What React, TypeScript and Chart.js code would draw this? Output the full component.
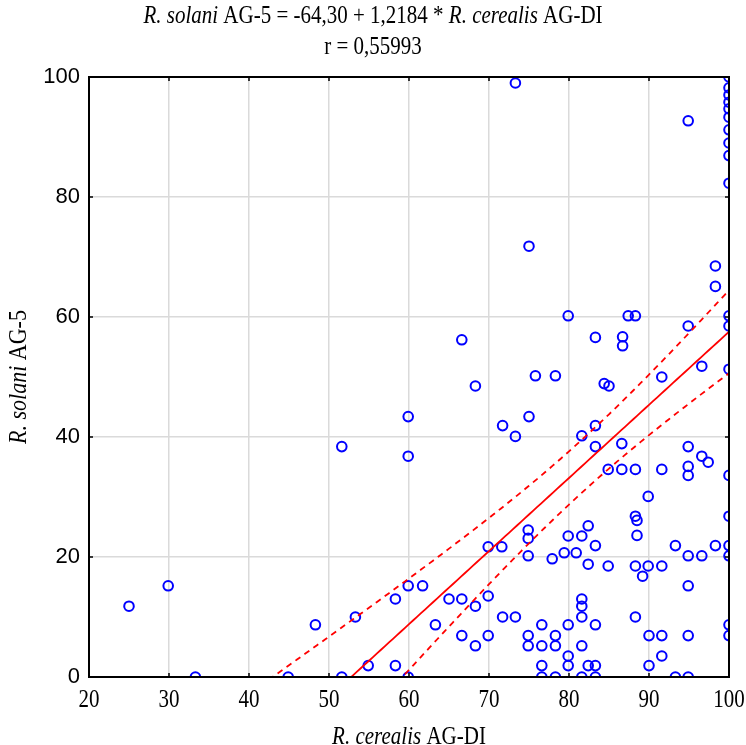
import React, { useEffect, useRef } from "react";
import { Chart, registerables } from "chart.js";

Chart.register(...registerables);

// R. cerealis AG-DI (x) and R. solani AG-5 (y), one entry per sample
const cerealisValues: number[] = [
  25.0, 29.9, 33.3, 44.9, 48.3, 51.6, 51.6, 53.3, 54.9, 58.3,
  58.3, 59.9, 59.9, 59.9, 59.9, 61.7, 63.3, 65.0, 66.6, 66.6,
  66.6, 68.3, 68.3, 68.3, 69.9, 69.9, 69.9, 71.7, 71.6, 71.7,
  73.3, 73.3, 73.3, 75.0, 75.0, 74.9, 74.9, 74.9, 74.9, 74.9,
  75.8, 76.6, 76.6, 76.6, 76.6, 77.9, 78.3, 78.3, 78.3, 78.3,
  79.4, 79.9, 79.9, 79.9, 79.9, 79.9, 80.9, 81.6, 81.6, 81.6,
  81.6, 81.6, 81.6, 81.6, 82.4, 82.4, 82.4, 83.3, 83.3, 83.3,
  83.3, 83.3, 83.3, 83.3, 84.4, 85.0, 84.9, 84.9, 86.7, 86.7,
  86.6, 86.6, 87.4, 88.3, 88.3, 88.3, 88.5, 88.5, 88.3, 88.3,
  89.2, 89.9, 89.9, 90.0, 90.0, 91.6, 91.6, 91.6, 91.6, 91.6,
  93.3, 93.3, 94.9, 94.9, 94.9, 94.9, 94.9, 94.9, 94.9, 94.9,
  94.9, 96.6, 96.6, 96.6, 97.4, 98.3, 98.3, 98.3,
  100, 100, 100, 100, 100, 100, 100, 100, 100, 100,
  100, 100, 100, 100, 100, 100, 100, 100, 100,
];

const solaniValues: number[] = [
  11.8, 15.2, 0, 0, 8.7, 38.4, 0, 10.0, 1.9, 1.9,
  13.0, 15.2, 43.4, 36.8, 0, 15.2, 8.7, 13.0, 13.0, 6.9,
  56.2, 48.5, 11.8, 5.2, 21.7, 13.5, 6.9, 41.9, 21.7, 10.0,
  99.0, 40.1, 10.0, 71.8, 43.4, 24.5, 23.1, 20.2, 6.9, 5.2,
  50.2, 8.7, 5.2, 1.9, 0, 19.7, 50.2, 6.9, 5.2, 0,
  20.7, 60.2, 23.5, 8.7, 3.5, 1.9, 20.7, 40.2, 23.5, 13.0,
  11.8, 10.0, 5.2, 0, 25.2, 18.8, 1.9, 56.6, 41.9, 38.4,
  21.9, 8.7, 1.9, 0, 48.9, 48.5, 34.6, 18.5, 56.7, 55.2,
  38.9, 34.6, 60.2, 60.2, 34.6, 26.8, 26.1, 23.6, 18.5, 10.0,
  16.8, 30.1, 18.5, 6.9, 1.9, 50.0, 34.6, 18.5, 6.9, 3.5,
  21.9, 0, 92.7, 58.5, 38.4, 35.1, 33.6, 20.2, 15.2, 6.9,
  0, 51.8, 36.8, 20.2, 35.8, 68.5, 65.1, 21.9,
  100, 98.2, 97.0, 95.8, 94.7, 93.3, 91.2, 89.0, 86.9, 82.3,
  60.2, 58.5, 51.3, 33.6, 26.8, 21.9, 20.2, 8.7, 6.9,
];

// Fitted line reported in the heading
const intercept = -64.3;
const slope = 1.2184;
const correlation = "0,55993";

const xMin = 20;
const xMax = 100;
const xStep = 10;
const yMin = 0;
const yMax = 100;
const yStep = 20;

const BLUE = "#0000ff";
const RED = "#ff0000";
const SERIF = "'Liberation Serif', 'Times New Roman', serif";
const SANS = "'Liberation Sans', Arial, sans-serif";
// serif lettering is set slightly tall and narrow
const STRETCH = 1.18;

type Part = { text: string; italic: boolean };

const fmt = (v: number, digits: number) => v.toFixed(digits).replace(".", ",");

function drawRich(ctx: CanvasRenderingContext2D, parts: Part[], cx: number, cy: number, size: number) {
  const fontFor = (p: Part) => `${p.italic ? "italic " : ""}${size}px ${SERIF}`;
  let total = 0;
  const widths = parts.map((p) => {
    ctx.font = fontFor(p);
    const w = ctx.measureText(p.text).width;
    total += w;
    return w;
  });
  ctx.save();
  ctx.translate(cx, cy);
  ctx.scale(1, STRETCH);
  let x = -total / 2;
  ctx.textBaseline = "middle";
  ctx.textAlign = "left";
  parts.forEach((p, i) => {
    ctx.font = fontFor(p);
    ctx.fillText(p.text, x, 0);
    x += widths[i];
  });
  ctx.restore();
}

const frameAndText = {
  id: "frameAndText",
  afterDatasetsDraw(chart: any) {
    const { ctx, chartArea, scales } = chart;
    const { left, right, top, bottom } = chartArea;
    const xs = scales.x;
    const ys = scales.y;
    ctx.save();
    ctx.fillStyle = "#000";
    ctx.strokeStyle = "#000";

    // plot frame
    ctx.lineWidth = 2;
    ctx.strokeRect(left, top, right - left, bottom - top);

    // inward tick marks on all four sides
    ctx.lineWidth = 1.5;
    ctx.beginPath();
    xs.ticks.forEach((t: any) => {
      const px = xs.getPixelForValue(t.value);
      ctx.moveTo(px, bottom);
      ctx.lineTo(px, bottom - 4);
      ctx.moveTo(px, top);
      ctx.lineTo(px, top + 4);
    });
    ys.ticks.forEach((t: any) => {
      const py = ys.getPixelForValue(t.value);
      ctx.moveTo(left, py);
      ctx.lineTo(left + 4, py);
      ctx.moveTo(right, py);
      ctx.lineTo(right - 4, py);
    });
    ctx.stroke();

    // tick labels
    xs.ticks.forEach((t: any) => {
      drawRich(ctx, [{ text: String(t.value), italic: false }], xs.getPixelForValue(t.value), bottom + 23, 21);
    });
    ctx.font = `22px ${SANS}`;
    ctx.textAlign = "right";
    ctx.textBaseline = "middle";
    ys.ticks.forEach((t: any) => {
      ctx.fillText(String(t.value), left - 9, ys.getPixelForValue(t.value));
    });

    // heading
    const cx = chart.width / 2;
    drawRich(
      ctx,
      [
        { text: "R. solani", italic: true },
        { text: ` AG-5 = ${fmt(intercept, 2)} + ${fmt(slope, 4)} * `, italic: false },
        { text: "R. cerealis", italic: true },
        { text: " AG-DI", italic: false },
      ],
      cx,
      16,
      21
    );
    drawRich(ctx, [{ text: `r = ${correlation}`, italic: false }], cx, 47, 21);

    // axis titles
    drawRich(
      ctx,
      [
        { text: "R. cerealis", italic: true },
        { text: " AG-DI", italic: false },
      ],
      (left + right) / 2,
      bottom + 60,
      21
    );
    ctx.save();
    ctx.translate(19, (top + bottom) / 2);
    ctx.rotate(-Math.PI / 2);
    drawRich(
      ctx,
      [
        { text: "R. solani", italic: true },
        { text: " AG-5", italic: false },
      ],
      0,
      0,
      22
    );
    ctx.restore();
    ctx.restore();
  },
};

function buildBands() {
  const n = cerealisValues.length;
  const xbar = cerealisValues.reduce((a, b) => a + b, 0) / n;
  let sxx = 0;
  let sse = 0;
  for (let i = 0; i < n; i++) {
    const x = cerealisValues[i];
    sxx += (x - xbar) * (x - xbar);
    const r = solaniValues[i] - (intercept + slope * x);
    sse += r * r;
  }
  const s = Math.sqrt(sse / (n - 2));
  const t = 1.977;
  const fit: { x: number; y: number }[] = [];
  const upper: { x: number; y: number }[] = [];
  const lower: { x: number; y: number }[] = [];
  for (let x = xMin; x <= xMax + 1e-9; x += 0.5) {
    const yhat = intercept + slope * x;
    const h = t * s * Math.sqrt(1 / n + ((x - xbar) * (x - xbar)) / sxx);
    fit.push({ x, y: yhat });
    upper.push({ x, y: yhat + h });
    lower.push({ x, y: yhat - h });
  }
  return { fit, upper, lower };
}

export default function App() {
  const ref = useRef<HTMLCanvasElement | null>(null);

  useEffect(() => {
    if (!ref.current) return;
    const { fit, upper, lower } = buildBands();
    const points = cerealisValues.map((x, i) => ({ x, y: solaniValues[i] }));
    const lineStyle = {
      type: "line" as const,
      pointRadius: 0,
      borderColor: RED,
      borderWidth: 1.8,
      fill: false,
      tension: 0,
      clip: 0,
    };
    const chart = new Chart(ref.current, {
      type: "scatter",
      data: {
        datasets: [
          { ...lineStyle, data: fit, order: 1 },
          { ...lineStyle, data: upper, borderDash: [6, 5], order: 1 },
          { ...lineStyle, data: lower, borderDash: [6, 5], order: 1 },
          {
            data: points,
            pointStyle: "circle",
            pointRadius: 4.8,
            pointBorderWidth: 2,
            borderColor: BLUE,
            pointBorderColor: BLUE,
            backgroundColor: "rgba(0,0,0,0)",
            pointBackgroundColor: "rgba(0,0,0,0)",
            clip: 0,
            order: 2,
          } as any,
        ],
      },
      options: {
        animation: false,
        responsive: false,
        devicePixelRatio: 1,
        layout: { padding: { top: 77, right: 17, left: 0, bottom: 0 } },
        plugins: { legend: { display: false }, tooltip: { enabled: false }, title: { display: false } },
        scales: {
          x: {
            type: "linear",
            min: xMin,
            max: xMax,
            ticks: { stepSize: xStep, display: false },
            grid: { color: "#dadada", lineWidth: 1.5, drawTicks: false },
            border: { display: false },
            afterFit: (scale: any) => {
              scale.height = 68;
            },
          },
          y: {
            type: "linear",
            min: yMin,
            max: yMax,
            ticks: { stepSize: yStep, display: false },
            grid: { color: "#dadada", lineWidth: 1.5, drawTicks: false },
            border: { display: false },
            afterFit: (scale: any) => {
              scale.width = 89;
            },
          },
        },
      },
      plugins: [frameAndText],
    });
    return () => chart.destroy();
  }, []);

  return (
    <div style={{ position: "absolute", left: 0, top: 0, width: 746, height: 745, background: "#fff" }}>
      <canvas ref={ref} width={746} height={745} />
    </div>
  );
}
